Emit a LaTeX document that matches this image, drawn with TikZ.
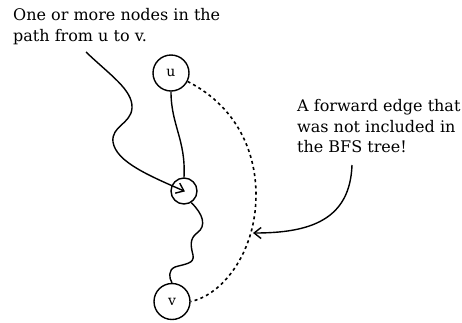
\documentclass[tikz,border=0pt]{standalone}
\usepackage{fontspec}
\setmainfont{DejaVu Serif}
\usetikzlibrary{arrows.meta}
\begin{document}
\begin{tikzpicture}[x=1pt,y=-1pt,
  vertex/.style={draw,circle,line width=1.4pt,inner sep=0pt,minimum size=36pt,font=\fontsize{14}{16}\selectfont},
  small/.style={draw,circle,line width=1.4pt,inner sep=0pt,minimum size=26pt},
  note/.style={align=left,inner sep=0pt,anchor=north west,font=\fontsize{16}{20.5}\selectfont},
  edge/.style={line width=1.4pt},
  barb/.style={-{Straight Barb[length=7pt,width=11pt,line width=1.4pt]}},
  dots/.style={line width=1.6pt,dash pattern=on 3pt off 3.2pt}]
\useasboundingbox (0,0) rectangle (462,322);
\node[vertex] (u) at (171,73) {u};
\node[small] (m) at (184,191) {};
\node[vertex] (v) at (172,301.5) {v};
\node[note] (t1) at (13,8.5) {One or more nodes in the\\path from u to v.};
\node[note] (t2) at (297,99.5) {A forward edge that\\was not included in\\the BFS tree!};
\coordinate (s1) at (86,52);
\coordinate (s2) at (352,165);
\coordinate (hit) at (253,233);
% path u -> m
\draw[edge] (u.south) .. controls (171,125) and (186,140) .. (m.north);
% path m -> v
\draw[edge] (m.-58) .. controls (203,214) and (207,226) .. (197,233)
  .. controls (189,239) and (191,247) .. (193,255)
  .. controls (195,264) and (184,264) .. (175,267)
  .. controls (168,270) and (169,278) .. (v.north);
% forward edge
\draw[dots] (u.-27) .. controls (240,108) and (261,160) .. (255,212)
  .. controls (249,262) and (218,296) .. (v.east);
% annotation arrows
\draw[edge,barb,shorten >=-1pt] (s1) .. controls (110,75) and (133,90) .. (132,108)
  .. controls (131,124) and (111,126) .. (113,142)
  .. controls (116,162) and (150,176) .. (m.center);
\draw[edge,barb] (s2) .. controls (350,220) and (310,233) .. (hit);
\end{tikzpicture}
\end{document}
